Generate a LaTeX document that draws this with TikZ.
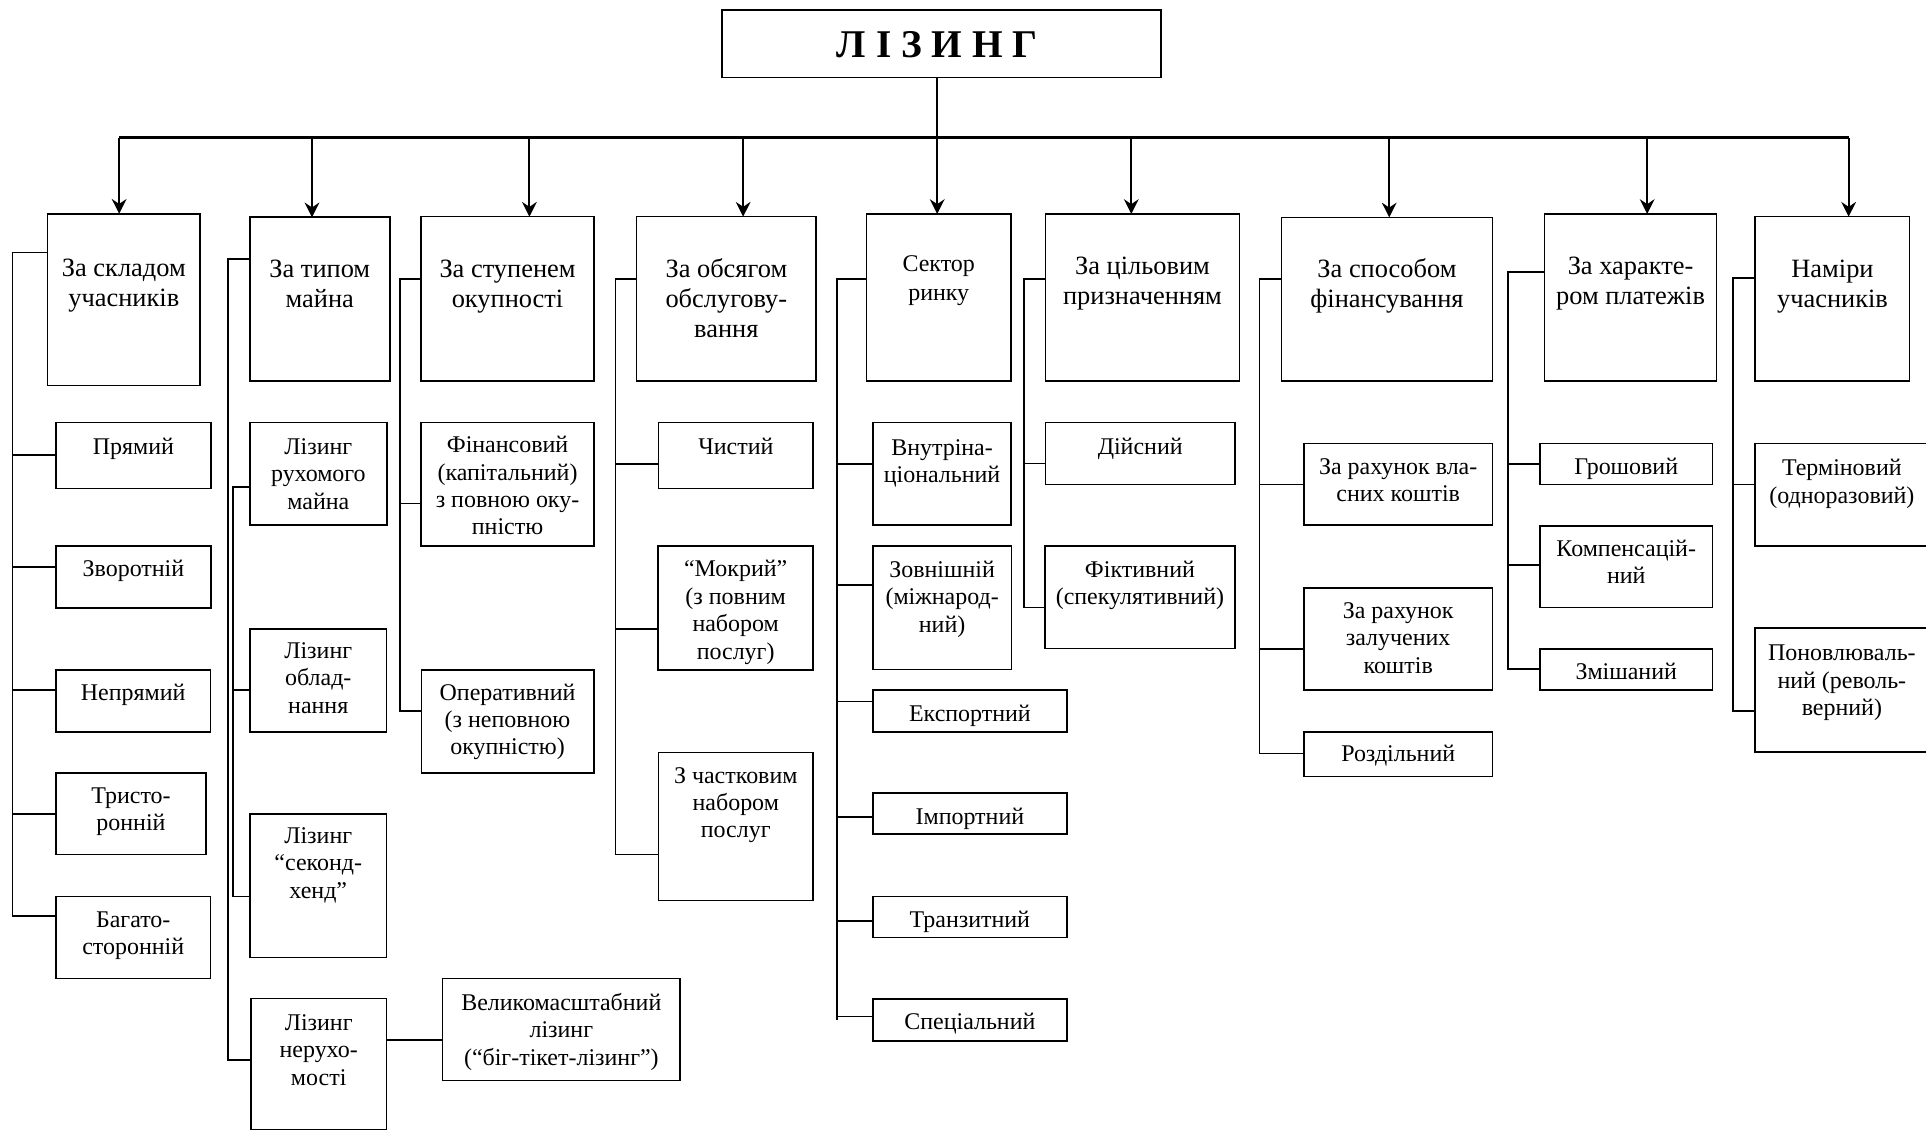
\documentclass[tikz,border=0pt]{standalone}
\usepackage{fontspec}
\setmainfont{Liberation Serif}
\usetikzlibrary{arrows.meta}
\newcommand\firststrut{\rule{0pt}{20pt}}
\newcommand\mkbox[8]{%
  \node[box, minimum width={#4-#2}, minimum height={#5-#3}] (#1) at ({(#2+#4)/2},{(#3+#5)/2}) {};
  \node[#8] (#1t) at ({(#2+#4)/2},{#6-20}) {\firststrut#7};}
\tikzset{
  box/.style={draw, line width=1.3pt, inner sep=0pt, outer sep=0pt},
  hd/.style={font=\fontsize{21.5}{24.4}\selectfont, align=center, anchor=north, inner sep=0pt},
  ch/.style={font=\fontsize{19.5}{22.3}\selectfont, align=center, anchor=north, inner sep=0pt},
  sr/.style={font=\fontsize{19.5}{23}\selectfont, align=center, anchor=north, inner sep=0pt},
  ln/.style={line width=1.3pt},
  arr/.style={line width=1.6pt, -{Stealth[length=12pt,width=12pt,inset=4pt]}},
  bus/.style={line width=2.4pt},
}
\begin{document}
\begin{tikzpicture}[x=1pt,y=-1pt]
\fill[white] (0,0) rectangle (1568,921);
\useasboundingbox (0,0) rectangle (1568,921);

% title
\node[box, minimum width=357, minimum height=54.9] (title) at (766.5,35.55) {};
\node[font=\bfseries\fontsize{32}{36}\selectfont, inner sep=0pt, anchor=base] (titlet) at (763,46.7) {Л І З И Н Г};

% headers
\mkbox{h1}{38.8}{174}{162.8}{314}{224.7}{За складом\\учасників}{hd}
\mkbox{h2}{203.4}{176.9}{317.3}{310.2}{225.8}{За типом\\майна}{hd}
\mkbox{h3}{342.9}{176.4}{483.5}{310.2}{225.8}{За ступенем\\окупності}{hd}
\mkbox{h4}{518.3}{176.4}{664.4}{310.2}{225.8}{За обсягом\\обслугову-\\вання}{hd}
\mkbox{h5}{705.5}{174.2}{823}{310.2}{221.2}{Сектор\\ринку}{sr}
\mkbox{h6}{851.2}{174.2}{1009}{310.2}{223}{За цільовим\\призначенням}{hd}
\mkbox{h7}{1043.3}{177}{1215}{310.2}{225.8}{За способом\\фінансування}{hd}
\mkbox{h8}{1257.4}{174.2}{1397.5}{310.2}{223.3}{За характе-\\ром платежів}{hd}
\mkbox{h9}{1429}{176.4}{1554.7}{310.2}{225.8}{Наміри\\учасників}{hd}

% bus and arrows
\coordinate (u1) at (97,112.3);
\coordinate (u2) at (254,112.3);
\coordinate (u3) at (431,112.3);
\coordinate (u4) at (605,112.3);
\coordinate (u5) at (763,112.3);
\coordinate (u6) at (921,112.3);
\coordinate (u7) at (1131,112.3);
\coordinate (u8) at (1341,112.3);
\coordinate (u9) at (1505,112.3);
\draw[ln] (u5 |- title.south) -- (u5);
\draw[bus] (u1) -- (u9);
\foreach \i in {1,...,9} {\draw[arr] (u\i) -- (u\i |- h\i.north);}

% column 1
\mkbox{a1}{45.5}{344.1}{171.8}{397.6}{369.6}{Прямий}{ch}
\mkbox{a2}{45.5}{444.5}{171.8}{495}{469.5}{Зворотній}{ch}
\mkbox{a3}{45.4}{545.6}{171.5}{595.7}{570.4}{Непрямий}{ch}
\mkbox{a4}{45.4}{629.1}{167.9}{695.8}{653.9}{Тристо-\\ронній}{ch}
\mkbox{a5}{45.4}{729.7}{171.5}{796.5}{754.5}{Багато-\\сторонній}{ch}
\coordinate (k1t) at (10.3,205.5);
\coordinate (k1b) at (10.3,745.8);
\draw[ln] (h1.west |- k1t) -- (k1t) -- (k1b) -- (a5.west |- k1b);
\draw[ln] (k1t |- 0,370.4) -- (a1.west |- 0,370.4);
\draw[ln] (k1t |- 0,461.4) -- (a2.west |- 0,461.4);
\draw[ln] (k1t |- 0,561.8) -- (a3.west |- 0,561.8);
\draw[ln] (k1t |- 0,662.7) -- (a4.west |- 0,662.7);

% column 2
\mkbox{b1}{203.4}{344.1}{315}{427.4}{369.6}{Лізинг\\рухомого\\майна}{ch}
\mkbox{b2}{203.5}{511.9}{314.7}{595.7}{535.9}{Лізинг\\облад-\\нання}{ch}
\mkbox{b3}{203.5}{662.7}{314.7}{779.6}{686.4}{Лізинг\\“секонд-\\хенд”}{ch}
\mkbox{b4}{204.1}{812.8}{314.8}{919.6}{838.6}{Лізинг\\нерухо-\\мості}{ch}
\mkbox{b5}{360.4}{796.5}{553.6}{879.8}{822.3}{Великомасштабний\\лізинг\\(“біг-тікет-лізинг”)}{ch}
\coordinate (k2t) at (185.7,211);
\coordinate (k2b) at (185.7,863);
\coordinate (k2it) at (189.6,396.7);
\coordinate (k2ib) at (189.6,729.7);
\draw[ln] (h2.west |- k2t) -- (k2t) -- (k2b) -- (b4.west |- k2b);
\draw[ln] (b1.west |- k2it) -- (k2it) -- (k2ib) -- (b3.west |- k2ib);
\draw[ln] (k2it |- 0,561.8) -- (b2.west |- 0,561.8);
\draw[ln] (b4.east |- 0,846.5) -- (b5.west |- 0,846.5);

% column 3
\mkbox{c1}{342.9}{344.1}{483.5}{444.5}{368.3}{Фінансовий\\(капітальний)\\з повною оку-\\пністю}{ch}
\mkbox{c2}{343}{545.6}{483.4}{629.1}{569.8}{Оперативний\\(з неповною\\окупністю)}{ch}
\coordinate (k3t) at (325.5,227);
\coordinate (k3b) at (325.5,578.6);
\draw[ln] (h3.west |- k3t) -- (k3t) -- (k3b) -- (c2.west |- k3b);
\draw[ln] (k3t |- 0,410) -- (c1.west |- 0,410);

% column 4
\mkbox{d1}{536.1}{344.1}{662}{397.6}{369.6}{Чистий}{ch}
\mkbox{d2}{535.8}{444.5}{662}{545.6}{469.5}{“Мокрий”\\(з повним\\набором\\послуг)}{ch}
\mkbox{d3}{536}{612.6}{662}{733}{637.4}{З частковим\\набором\\послуг}{ch}
\coordinate (k4t) at (501,227);
\coordinate (k4b) at (501,695.8);
\draw[ln] (h4.west |- k4t) -- (k4t) -- (k4b) -- (d3.west |- k4b);
\draw[ln] (k4t |- 0,377.6) -- (d1.west |- 0,377.6);
\draw[ln] (k4t |- 0,511.9) -- (d2.west |- 0,511.9);

% column 5
\mkbox{e1}{710.9}{344.1}{823}{427.4}{370.4}{Внутріна-\\ціональний}{ch}
\mkbox{e2}{710.6}{444.5}{823.4}{545}{470}{Зовнішній\\(міжнарод-\\ний)}{ch}
\mkbox{e3}{710.6}{561.8}{868.6}{595.7}{586.9}{Експортний}{ch}
\mkbox{e4}{710.6}{645.6}{868.6}{679.2}{671}{Імпортний}{ch}
\mkbox{e5}{710.6}{729.7}{868.6}{763.3}{754.5}{Транзитний}{ch}
\mkbox{e6}{710.6}{813.2}{868.6}{847.4}{838.1}{Спеціальний}{ch}
\coordinate (k5t) at (681.5,227);
\coordinate (k5b) at (681.5,830.3);
\draw[ln] (h5.west |- k5t) -- (k5t) -- (k5b);
\draw[ln] (k5t |- 0,377.6) -- (e1.west |- 0,377.6);
\draw[ln] (k5t |- 0,476.3) -- (e2.west |- 0,476.3);
\draw[ln] (k5t |- 0,571) -- (e3.west |- 0,571);
\draw[ln] (k5t |- 0,664.9) -- (e4.west |- 0,664.9);
\draw[ln] (k5t |- 0,749.8) -- (e5.west |- 0,749.8);
\draw[ln] (k5t |- 0,827.6) -- (e6.west |- 0,827.6);

% column 6
\mkbox{f1}{851.2}{344.1}{1005.3}{394.3}{369.6}{Дійсний}{ch}
\mkbox{f2}{850.8}{444.5}{1005.3}{527.8}{470}{Фіктивний\\(спекулятивний)}{ch}
\coordinate (k6t) at (833.7,227);
\coordinate (k6b) at (833.7,494.5);
\draw[ln] (h6.west |- k6t) -- (k6t) -- (k6b) -- (f2.west |- k6b);
\draw[ln] (k6t |- 0,377.4) -- (f1.west |- 0,377.4);

% column 7
\mkbox{g1}{1061.6}{361}{1215}{427.4}{385.9}{За рахунок вла-\\сних коштів}{ch}
\mkbox{g2}{1061.6}{478.5}{1215}{561.8}{503.4}{За рахунок\\залучених\\коштів}{ch}
\mkbox{g3}{1061.6}{595.7}{1215}{632.3}{620.1}{Роздільний}{ch}
\coordinate (k7t) at (1025.5,227);
\coordinate (k7b) at (1025.5,613.3);
\draw[ln] (h7.west |- k7t) -- (k7t) -- (k7b) -- (g3.west |- k7b);
\draw[ln] (k7t |- 0,394.3) -- (g1.west |- 0,394.3);
\draw[ln] (k7t |- 0,528.4) -- (g2.west |- 0,528.4);

% column 8
\mkbox{p1}{1253.6}{361}{1394.3}{394.3}{385.9}{Грошовий}{ch}
\mkbox{p2}{1253.6}{428}{1394.3}{494.5}{452.7}{Компенсацій-\\ний}{ch}
\mkbox{p3}{1253.6}{528.4}{1394.3}{561.8}{553}{Змішаний}{ch}
\coordinate (k8t) at (1227.6,221.2);
\coordinate (k8b) at (1227.6,544.7);
\draw[ln] (h8.west |- k8t) -- (k8t) -- (k8b) -- (p3.west |- k8b);
\draw[ln] (k8t |- 0,377.8) -- (p1.west |- 0,377.8);
\draw[ln] (k8t |- 0,460) -- (p2.west |- 0,460);

% column 9
\mkbox{q1}{1429}{361}{1570}{444.5}{387}{Терміновий\\(одноразовий)}{ch}
\mkbox{q2}{1429}{511.5}{1570}{612}{537.7}{Поновлюваль-\\ний (револь-\\верний)}{ch}
\coordinate (k9t) at (1410.8,226.5);
\coordinate (k9b) at (1410.8,578.9);
\draw[ln] (h9.west |- k9t) -- (k9t) -- (k9b) -- (q2.west |- k9b);
\draw[ln] (k9t |- 0,394.3) -- (q1.west |- 0,394.3);
\end{tikzpicture}
\end{document}
